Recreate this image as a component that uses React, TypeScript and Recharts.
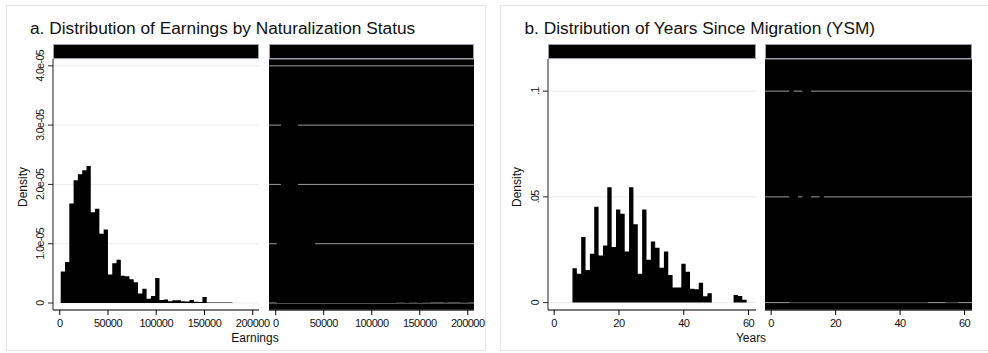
import { AreaChart, Area, XAxis, YAxis, CartesianGrid } from 'recharts';

const FONT = '"Liberation Sans", Arial, Helvetica, sans-serif';

// a. earnings histogram (density in units of 1e-5), common bins for both facets
const EARN_BIN_START = 1000;
const EARN_BIN_WIDTH = 4450;
const EARN_CITIZEN = [
  0.53, 0.69, 1.68, 2.07, 2.17, 2.24, 2.31, 1.53, 1.59, 1.17,
  1.24, 0.48, 0.67, 0.73, 0.46, 0.45, 0.4, 0.35, 0.16, 0.24,
  0.07, 0.12, 0.42, 0.05, 0.06, 0.03, 0.045, 0.045, 0.03, 0.025,
  0.05, 0.02, 0.015, 0.1, 0.01, 0.01, 0.01, 0.01, 0.01, 0.01,
];
const EARN_NONCITIZEN = [
  1.5, 3.2, 3.5, 3.4, 3.1, 1.85, 1.5, 1.2, 1.05, 0.62,
  0.7, 0.36, 0.4, 0.3, 0.22, 0.2, 0.15, 0.1, 0.08, 0.06,
  0.05, 0.04, 0.1, 0.03, 0.03, 0.02, 0.02, 0.02, 0.01, 0.01,
  0.02, 0.01, 0.01, 0.03, 0.01, 0.01, 0, 0, 0, 0.01,
  0, 0, 0, 0.01, 0.01,
];
const EARN_X_TICKS = [0, 50000, 100000, 150000, 200000];
const EARN_Y_TICKS = [0, 1e-5, 2e-5, 3e-5, 4e-5];
const EARN_Y_LABELS = ['0', '1.0e-05', '2.0e-05', '3.0e-05', '4.0e-05'];

// b. years since migration histogram
const YSM_BIN_START = 5.65;
const YSM_BIN_WIDTH = 1.344;
const YSM_CITIZEN = [
  0.0162, 0.0137, 0.031, 0.0154, 0.0231, 0.0453, 0.0223, 0.027, 0.0546, 0.0263,
  0.044, 0.042, 0.0242, 0.0546, 0.037, 0.0137, 0.044, 0.0203, 0.0289, 0.0259,
  0.0165, 0.0242, 0.0131, 0.0071, 0.0071, 0.0184, 0.0146, 0.0066, 0.0063, 0.0094,
  0.003, 0.0044, 0, 0, 0, 0, 0, 0.0036, 0.0031, 0.0013,
];
const YSM_NONCITIZEN = [
  0.105, 0.07, 0.04, 0.11, 0.103, 0.042, 0.048, 0.058, 0.035, 0.046,
  0.03, 0.038, 0.025, 0.03, 0.022, 0.018, 0.025, 0.015, 0.016, 0.012,
  0.01, 0.012, 0.008, 0.007, 0.006, 0.008, 0.005, 0.004, 0.003, 0.004,
  0.002, 0.002, 0, 0, 0, 0, 0.001, 0.001, 0.001, 0,
];
const YSM_X_TICKS = [0, 20, 40, 60];
const YSM_Y_TICKS = [0, 0.05, 0.1];
const YSM_Y_LABELS = ['0', '.05', '.1'];

function toSteps(values: number[], start: number, width: number, unit: number) {
  const rows = values.map((v, i) => ({ x: start + i * width, d: v * unit }));
  rows.push({ x: start + values.length * width, d: 0 });
  return rows;
}

interface FacetProps {
  left: number;
  width: number;
  rows: { x: number; d: number }[];
  xDomain: [number, number];
  xTicks: number[];
  yDomain: [number, number];
  yTicks: number[];
  yLabels?: string[];
  dark?: boolean;
}

const PLOT_TOP = 59;
const PLOT_H = 251;
const PAD_TOP = 14;
const PAD_RIGHT = 24;

function Facet({ left, width, rows, xDomain, xTicks, yDomain, yTicks, yLabels, dark }: FacetProps) {
  const rotTick = (p: any) => {
    if (dark) return <g />;
    const idx = yTicks.indexOf(p.payload.value);
    return (
      <text
        transform={`translate(${p.x - 2},${p.y}) rotate(-90)`}
        textAnchor="middle"
        fontSize={10.5}
        letterSpacing={-0.6}
        fill="#111"
        fontFamily={FONT}
      >
        {yLabels ? yLabels[idx] : p.payload.value}
      </text>
    );
  };
  return (
    <div style={{ position: 'absolute', left, top: PLOT_TOP - PAD_TOP }}>
      <AreaChart
        width={width + PAD_RIGHT}
        height={PAD_TOP + PLOT_H + 25}
        data={rows}
        margin={{ top: PAD_TOP, right: PAD_RIGHT, bottom: 0, left: 0 }}
      >
        <CartesianGrid
          vertical={false}
          stroke={dark ? '#9c9c9c' : '#ebebeb'}
          fill={dark ? '#000' : 'none'}
          fillOpacity={1}
        />
        <XAxis
          type="number"
          dataKey="x"
          domain={xDomain}
          ticks={xTicks}
          interval={0}
          allowDataOverflow
          height={25}
          tickSize={5}
          tickMargin={4}
          axisLine={{ stroke: '#000' }}
          tickLine={{ stroke: '#000' }}
          tick={{ fontSize: 11, fill: '#111', fontFamily: FONT, letterSpacing: -0.5 }}
        />
        <YAxis
          type="number"
          domain={yDomain}
          ticks={yTicks}
          interval={0}
          allowDataOverflow
          width={dark ? 0 : 53}
          tickSize={dark ? 0 : 5}
          axisLine={{ stroke: dark ? '#a8a8a8' : '#222' }}
          tickLine={{ stroke: '#222' }}
          tick={rotTick}
        />
        <Area
          type="stepAfter"
          dataKey="d"
          stroke="none"
          fill="#000"
          fillOpacity={1}
          baseValue={0}
          dot={false}
          activeDot={false}
          isAnimationActive={false}
        />
      </AreaChart>
    </div>
  );
}

function Strip({ left, width }: { left: number; width: number }) {
  return (
    <div
      style={{
        position: 'absolute',
        left,
        top: 44,
        width,
        height: 15,
        boxSizing: 'border-box',
        background: '#000',
        border: '1px solid #9aa0ad',
      }}
    />
  );
}

export default function App() {
  const earnCit = toSteps(EARN_CITIZEN, EARN_BIN_START, EARN_BIN_WIDTH, 1e-5);
  const earnNon = toSteps(EARN_NONCITIZEN, EARN_BIN_START, EARN_BIN_WIDTH, 1e-5);
  const ysmCit = toSteps(YSM_CITIZEN, YSM_BIN_START, YSM_BIN_WIDTH, 1);
  const ysmNon = toSteps(YSM_NONCITIZEN, YSM_BIN_START, YSM_BIN_WIDTH, 1);

  const earnX: [number, number] = [-7000, 206500];
  const earnY: [number, number] = [-1.18e-6, 4.115e-5];
  const ysmX: [number, number] = [-1.9, 62.3];
  const ysmY: [number, number] = [-0.0035, 0.1152];

  return (
    <div
      style={{
        position: 'absolute',
        left: 0,
        top: 0,
        width: 988,
        height: 353,
        background: '#fff',
        overflow: 'hidden',
        fontFamily: FONT,
      }}
    >
      <div style={{ position: 'absolute', left: 6, top: 5, width: 478, height: 344, border: '1px solid #e6e6e6' }} />
      <div style={{ position: 'absolute', left: 500, top: 5, width: 494, height: 344, border: '1px solid #e6e6e6' }} />

      <svg width={988} height={353} style={{ position: 'absolute', left: 0, top: 0 }}>
        <text x={30} y={34} fontSize={17.3} fill="#111" fontFamily={FONT}>
          a. Distribution of Earnings by Naturalization Status
        </text>
        <text x={524.5} y={34} fontSize={17.3} fill="#111" fontFamily={FONT}>
          b. Distribution of Years Since Migration (YSM)
        </text>
        <text transform="translate(27,187) rotate(-90)" textAnchor="middle" fontSize={12} fill="#111" fontFamily={FONT}>
          Density
        </text>
        <text transform="translate(521,187) rotate(-90)" textAnchor="middle" fontSize={12} fill="#111" fontFamily={FONT}>
          Density
        </text>
        <text x={255} y={342} textAnchor="middle" fontSize={12} fill="#111" fontFamily={FONT}>
          Earnings
        </text>
        <text x={751} y={342} textAnchor="middle" fontSize={12} fill="#111" fontFamily={FONT}>
          Years
        </text>
      </svg>

      <Facet left={0} width={259} rows={earnCit} xDomain={earnX} xTicks={EARN_X_TICKS} yDomain={earnY} yTicks={EARN_Y_TICKS} yLabels={EARN_Y_LABELS} />
      <Facet left={269} width={205} rows={earnNon} xDomain={earnX} xTicks={EARN_X_TICKS} yDomain={earnY} yTicks={EARN_Y_TICKS} dark />
      <Facet left={495} width={261} rows={ysmCit} xDomain={ysmX} xTicks={YSM_X_TICKS} yDomain={ysmY} yTicks={YSM_Y_TICKS} yLabels={YSM_Y_LABELS} />
      <Facet left={765} width={207} rows={ysmNon} xDomain={ysmX} xTicks={YSM_X_TICKS} yDomain={ysmY} yTicks={YSM_Y_TICKS} dark />

      <Strip left={53} width={206} />
      <Strip left={269} width={205} />
      <Strip left={548} width={208} />
      <Strip left={765} width={207} />
    </div>
  );
}
